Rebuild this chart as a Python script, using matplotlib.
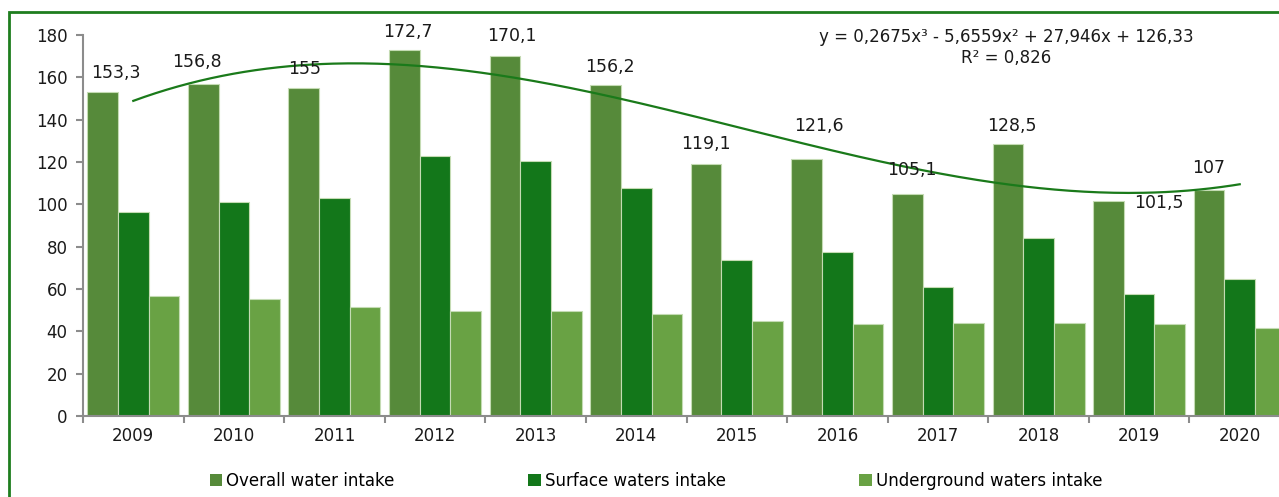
import matplotlib
matplotlib.use("Agg")
import matplotlib.pyplot as plt
import numpy as np
from matplotlib.patches import Rectangle, Patch

# ---- data ----
years = ["2009", "2010", "2011", "2012", "2013", "2014", "2015", "2016", "2017", "2018", "2019", "2020"]
overall = [153.3, 156.8, 155.0, 172.7, 170.1, 156.2, 119.1, 121.6, 105.1, 128.5, 101.5, 107.0]
surface = [96.5, 100.9, 103.0, 122.7, 120.3, 107.6, 73.8, 77.6, 60.8, 84.2, 57.6, 64.8]
underground = [56.6, 55.5, 51.6, 49.6, 49.4, 48.0, 44.9, 43.6, 43.8, 43.8, 43.6, 41.7]
overall_labels = ["153,3", "156,8", "155", "172,7", "170,1", "156,2", "119,1", "121,6", "105,1", "128,5", "101,5", "107"]
series_names = ["Overall water intake", "Surface waters intake", "Underground waters intake"]
equation_text = "y = 0,2675x³ - 5,6559x² + 27,946x + 126,33"
r2_text = "R² = 0,826"

# ---- style ----
c_overall = "#568a3a"
c_surface = "#13771a"
c_under = "#69a244"
c_trend = "#1a7a1a"
c_axis = "#8c8c8c"
FONT = "DejaVu Sans"
FS = 12

plt.rcParams["font.family"] = [FONT]

W, H = 1279, 497
fig = plt.figure(figsize=(W / 100, H / 100), dpi=100)

# frame border (green) - extends beyond the image at right and bottom
fig.patches.append(Rectangle((9 / W, -0.2), 1.2, 0.2 + (1 - 12 / H), transform=fig.transFigure,
                             fill=False, edgecolor="#1e7d1e", linewidth=2, clip_on=False))

ax_left = 83 / W
ax_w = 1207 / W
ax_bottom = 1 - 416 / H
ax_h = (416 - 35) / H
ax = fig.add_axes([ax_left, ax_bottom, ax_w, ax_h])

x = np.arange(len(years))
bw = 0.305
edge = dict(edgecolor="#c4dbb3", linewidth=0.8)
ax.bar(x - bw, overall, bw, color=c_overall, label=series_names[0], **edge)
ax.bar(x, surface, bw, color=c_surface, label=series_names[1], **edge)
ax.bar(x + bw, underground, bw, color=c_under, label=series_names[2], **edge)

# cubic trendline fitted to the overall values (x = 1..12 as in Excel)
xp = np.arange(1, len(years) + 1)
coef = np.polyfit(xp, overall, 3)
xs = np.linspace(1, len(years), 300)
ax.plot(xs - 1, np.polyval(coef, xs), color=c_trend, linewidth=1.6, zorder=5)

# data labels for overall bars (pixel offsets: layout only)
dx_px = [13, -6, 1, 3.5, 6.5, 4, 0, 12, 4.5, 4.5, 50, 0]
dy_px = [19, 22, 19, 18, 20, 18, 20, 33, 23.5, 18.5, -2, 22]
for i, (v, lab) in enumerate(zip(overall, overall_labels)):
    ax.annotate(lab, (x[i] - bw, v), xytext=(dx_px[i], dy_px[i]), textcoords="offset pixels",
                ha="center", va="center", fontsize=FS + 0.5, color="#1a1a1a", zorder=6)

ax.set_xlim(-0.5, len(years) - 0.5)
ax.set_ylim(0, 180)
ax.set_yticks(np.arange(0, 181, 20))
ax.set_xticks(x)
ax.set_xticklabels(years)
ax.set_xticks(np.arange(-0.5, len(years), 1), minor=True)
ax.tick_params(axis="x", which="major", length=0, pad=8, labelsize=FS, labelcolor="#1a1a1a")
ax.tick_params(axis="x", which="minor", length=5, width=1.5, color=c_axis)
ax.tick_params(axis="y", length=5, width=1.5, color=c_axis, labelsize=FS, labelcolor="#1a1a1a", pad=6)
for s in ["top", "right"]:
    ax.spines[s].set_visible(False)
for s in ["left", "bottom"]:
    ax.spines[s].set_color(c_axis)
    ax.spines[s].set_linewidth(1.5)
ax.set_facecolor("none")

# trendline equation
fig.text(1006 / W, 1 - 37 / H, equation_text, ha="center", va="center", fontsize=FS, color="#1a1a1a")
fig.text(1006 / W, 1 - 58 / H, r2_text, ha="center", va="center", fontsize=FS, color="#1a1a1a")

handles = [Patch(facecolor=c, edgecolor="none") for c in (c_overall, c_surface, c_under)]
fig.legend(handles, series_names, loc="center", bbox_to_anchor=(656 / W, 1 - 481 / H), ncol=3,
           frameon=False, fontsize=FS, handlelength=0.75, handleheight=0.75, handletextpad=0.25,
           columnspacing=8.0, borderpad=0)

fig.savefig("out.png", dpi=100)
